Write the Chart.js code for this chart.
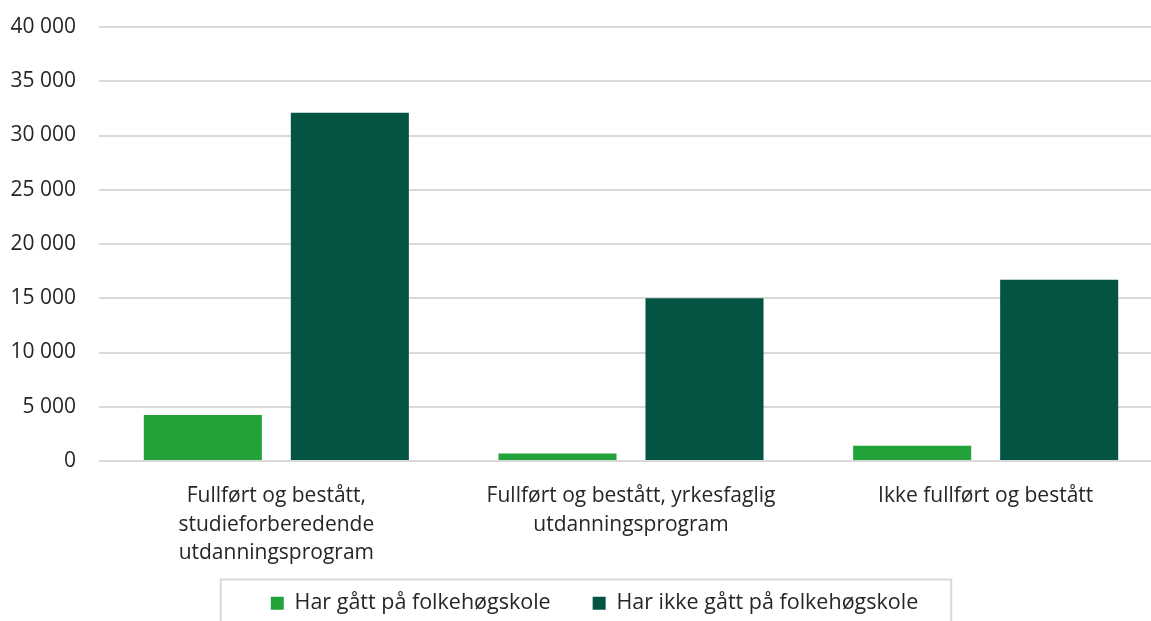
<!DOCTYPE html>
<html>
<head>
    <title>Folkehøgskole</title>
    <style>
        html, body {
            margin: 0;
            padding: 0;
            background: #ffffff;
            overflow: hidden;
        }

        #wrap {
            width: 1163px;
            height: 624px;
        }
    </style>
    <script src="https://cdn.jsdelivr.net/npm/chart.js@4/dist/chart.umd.min.js"></script>
</head>
<body>
    <div id="wrap">
        <canvas id="chartCanvas"></canvas>
    </div>

    <script>
        const categories = [
            ['Fullført og bestått,', 'studieforberedende', 'utdanningsprogram'],
            ['Fullført og bestått, yrkesfaglig', 'utdanningsprogram'],
            'Ikke fullført og bestått'
        ];
        const seriesNames = ['Har gått på folkehøgskole', 'Har ikke gått på folkehøgskole'];
        const harGatt = [4240, 700, 1410];
        const harIkkeGatt = [32100, 15000, 16700];
        const yTicks = [0, 5000, 10000, 15000, 20000, 25000, 30000, 35000, 40000];

        const textColor = '#262626';
        const gridColor = '#d9d9d9';

        // Ramme rundt legenden
        const legendBox = {
            id: 'legendBox',
            afterDraw(chart) {
                const legend = chart.legend;
                if (!legend || !legend.legendHitBoxes.length) return;
                const boxes = legend.legendHitBoxes;
                const first = boxes[0];
                const last = boxes[boxes.length - 1];
                const ctx = chart.ctx;
                ctx.save();
                ctx.strokeStyle = gridColor;
                ctx.lineWidth = 2;
                const left = first.left - 50;
                const right = last.left + last.width + 33;
                const top = first.top - 13;
                ctx.strokeRect(left, top, right - left, 100);
                ctx.restore();
            }
        };

        const ctx = document.getElementById('chartCanvas').getContext('2d');
        const chart = new Chart(ctx, {
            type: 'bar',
            data: {
                labels: categories,
                datasets: [{
                    label: seriesNames[0],
                    data: harGatt,
                    backgroundColor: '#22a33a',
                    categoryPercentage: 0.829,
                    barPercentage: 0.803
                }, {
                    label: seriesNames[1],
                    data: harIkkeGatt,
                    backgroundColor: '#035443',
                    categoryPercentage: 0.829,
                    barPercentage: 0.803
                }]
            },
            options: {
                responsive: true,
                maintainAspectRatio: false,
                animation: false,
                layout: {
                    padding: { top: 27, left: 26, right: 0, bottom: 0 }
                },
                scales: {
                    x: {
                        afterFit(scale) {
                            scale.height = 89.5;
                            // ikke klipp etikettene mot aksens høyde
                            scale._computeLabelArea = () => undefined;
                        },
                        grid: { display: false },
                        border: { display: false },
                        ticks: {
                            color: textColor,
                            padding: 13,
                            maxRotation: 0,
                            autoSkip: false,
                            font: { family: 'Open Sans', size: 21, lineHeight: 1.36 }
                        }
                    },
                    y: {
                        min: 0,
                        max: 40000,
                        afterBuildTicks(scale) {
                            scale.ticks = yTicks.map(v => ({ value: v }));
                        },
                        afterFit(scale) {
                            scale.width = 73;
                            scale.paddingTop = 0;
                            scale.paddingBottom = 0;
                            scale._computeLabelArea = () => undefined;
                        },
                        grid: {
                            color: gridColor,
                            lineWidth: 2,
                            drawTicks: false
                        },
                        border: { display: false },
                        ticks: {
                            color: textColor,
                            padding: 23,
                            font: { family: 'Open Sans', size: 21 },
                            callback: v => v === 0 ? '0' : String(v).replace(/\B(?=(\d{3})+(?!\d))/g, ' ')
                        }
                    }
                },
                plugins: {
                    legend: {
                        display: true,
                        position: 'bottom',
                        labels: {
                            color: textColor,
                            boxWidth: 13,
                            boxHeight: 13,
                            padding: 42,
                            font: { family: 'Open Sans', size: 21.5 }
                        }
                    },
                    tooltip: { enabled: false }
                }
            },
            plugins: [legendBox]
        });
    </script>
</body>
</html>
